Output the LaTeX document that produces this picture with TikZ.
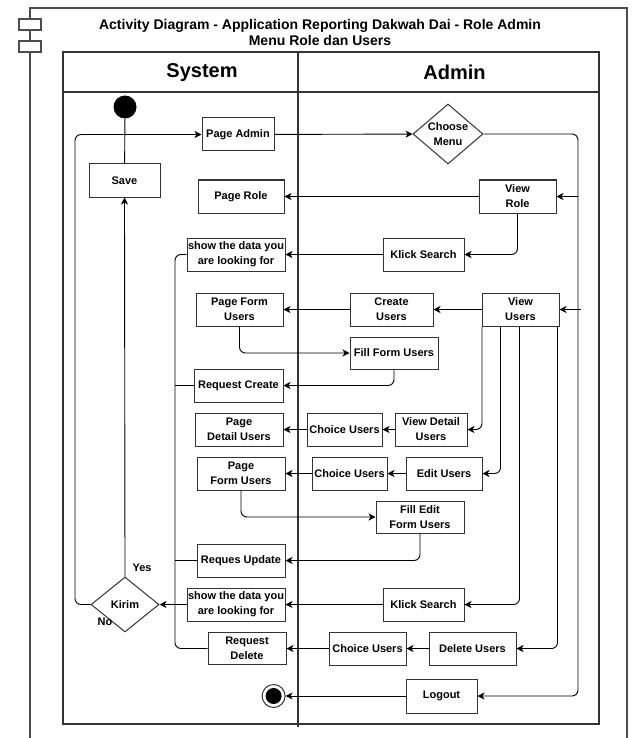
\documentclass[tikz,border=0pt]{standalone}
\usepackage{fontspec}
\setmainfont{Liberation Sans}
\usetikzlibrary{arrows.meta,shapes.geometric,calc}

\tikzset{
  act/.style={draw=black!80, line width=1pt, fill=white, align=center,
    font=\fontsize{11}{15}\selectfont\bfseries, inner sep=0pt,
    minimum height=33pt, minimum width=#1},
  decision/.style={diamond, draw=black!80, line width=1pt, fill=white, inner sep=0pt},
  flow/.style={line width=0.9pt, rounded corners=6pt,
    -{Stealth[length=7pt,width=7pt,inset=2pt]}},
  link/.style={line width=0.9pt, rounded corners=6pt},
  lane/.style={draw=black!80, line width=1.1pt},
  tag/.style={font=\fontsize{11}{13}\selectfont\bfseries, inner sep=0pt}
}

\begin{document}
\begin{tikzpicture}[x=1pt, y=-1pt]
  \useasboundingbox (0,0) rectangle (640,738);
  \draw[lane, draw=black!70] (30,738) -- (30,8) -- (627,8) -- (627,738);
  \foreach \y in {19,41}
  {
  \draw[lane, draw=black!70, fill=white] (19,\y) rectangle (41,\y+11);
  }
  \node[font=\fontsize{14}{16.7}\selectfont\bfseries, align=center] (title) at (320,32.5)
    {Activity Diagram - Application Reporting Dakwah Dai - Role Admin\\Menu Role dan Users};
  \draw[lane] (63,52) rectangle (599,724);
  \draw[lane] (63,92) -- (599,92);
  \draw[lane] (298,52) -- (298,727);
  \node[font=\fontsize{20}{24}\selectfont\bfseries] (system) at (202,72.5) {System};
  \node[font=\fontsize{20}{24}\selectfont\bfseries] (admin) at (454.5,72.5) {Admin};

  \node[circle, fill=black, minimum size=23pt, inner sep=0pt] (start) at (125,107) {};
  \node[act=72] (pageadmin) at (238,134.5) {Page Admin};
  \node[act=71] (save) at (124.5,180.5) {Save};
  \node[act=86] (pagerole) at (241,196.5) {Page Role};
  \node[act=98] (show1) at (236,254.5) {show the data you\\are looking for};
  \node[decision, minimum width=70pt, minimum height=60pt,
    label={[tag, align=center, font=\fontsize{11}{15}\selectfont\bfseries]center:Choose\\Menu}]
    (choose) at (448,134) {};
  \node[act=77] (viewrole) at (517.5,196.5) {View\\Role};
  \node[act=81] (klick1) at (423.5,254.5) {Klick Search};

  \node[act=87] (pageform1) at (239.5,309.5) {Page Form\\Users};
  \node[act=83] (createusers) at (391.5,309.5) {Create\\Users};
  \node[act=77] (viewusers) at (520.5,309.5) {View\\Users};
  \node[act=88, minimum height=32pt] (fillform) at (394,353) {Fill Form Users};
  \node[act=89] (reqcreate) at (238.5,385.5) {Request Create};
  \node[act=88] (pagedetail) at (239,429.5) {Page\\Detail Users};
  \node[act=75] (choice1) at (344.5,429.5) {Choice Users};
  \node[act=72] (viewdetail) at (431,429.5) {View Detail\\Users};
  \node[act=88] (pageform2) at (241,473.5) {Page\\Form Users};
  \node[act=75] (choice2) at (349.5,473.5) {Choice Users};
  \node[act=76] (edit) at (444,473.5) {Edit Users};
  \node[act=88, minimum height=32pt] (filledit) at (420,517) {Fill Edit\\Form Users};
  \node[act=88] (requpdate) at (241,560.5) {Reques Update};
  \node[act=98] (show2) at (236,604.5) {show the data you\\are looking for};
  \node[act=81] (klick2) at (423.5,604.5) {Klick Search};
  \node[decision, minimum width=68pt, minimum height=55pt,
    label={[tag]center:Kirim}] (kirim) at (125,604.5) {};
  \node[tag] (yes) at (142,568) {Yes};
  \node[tag] (no) at (105,622) {No};
  \node[act=78, minimum height=32pt] (reqdel) at (247,648.5) {Request\\Delete};
  \node[act=77] (choice3) at (367.5,648.5) {Choice Users};
  \node[act=87] (delete) at (472.5,648.5) {Delete Users};
  \node[act=71, minimum height=34pt] (logout) at (441.5,696) {Logout};
  \node[circle, draw=black!80, line width=1pt, minimum size=23pt, inner sep=0pt] (end) at (273.6,696) {};
  \node[circle, fill=black, minimum size=16pt, inner sep=0pt] at (end) {};

  \coordinate (loopL) at (75,134.5);
  \coordinate (loopM) at (175,254.5);
  \coordinate (busR) at (578,134);

  \draw[link] (start) -- (save);
  \draw[flow] (kirim.north) -- (save.south);
  \draw[flow] (kirim.west) -| (loopL) -- (pageadmin.west);
  \draw[flow] (pageadmin) -- (choose);
  \draw[flow] (choose.east) -- (busR) |- (logout.east);
  \draw[flow] (busR |- viewrole.east) -- (viewrole.east);
  \draw[flow] ([xshift=3pt]busR |- viewusers.east) -- (viewusers.east);
  \draw[flow] (viewrole) -- (pagerole);
  \draw[flow] (viewrole.south) |- (klick1.east);
  \draw[flow] (klick1) -- (show1);
  \draw[link] (show1.west) -- (loopM) -- (loopM |- reqdel.west) -- (reqdel.west);
  \draw[link] (reqcreate.west) -- (loopM |- reqcreate.west);
  \draw[link] (requpdate.west) -- (loopM |- requpdate.west);

  \draw[flow] (viewusers) -- (createusers);
  \draw[flow] (createusers) -- (pageform1);
  \draw[flow] (pageform1.south) |- (fillform.west);
  \draw[flow] (fillform.south) |- (reqcreate.east);
  \foreach \dx/\goal in {0.5/viewdetail, 19/edit, 38/klick2, 76/delete}
  {
  \draw[flow] ([xshift=\dx pt]viewusers.south west) |- (\goal.east);
  }
  \draw[flow] (viewdetail) -- (choice1);
  \draw[flow] (choice1) -- (pagedetail);
  \draw[flow] (edit) -- (choice2);
  \draw[flow] (choice2) -- (pageform2);
  \draw[flow] (pageform2.south) |- (filledit.west);
  \draw[flow] (filledit.south) |- (requpdate.east);
  \draw[flow] (klick2) -- (show2);
  \draw[flow] (show2) -- (kirim);
  \draw[flow] (delete) -- (choice3);
  \draw[flow] (choice3) -- (reqdel);
  \draw[flow] (logout) -- (end);
\end{tikzpicture}
\end{document}
